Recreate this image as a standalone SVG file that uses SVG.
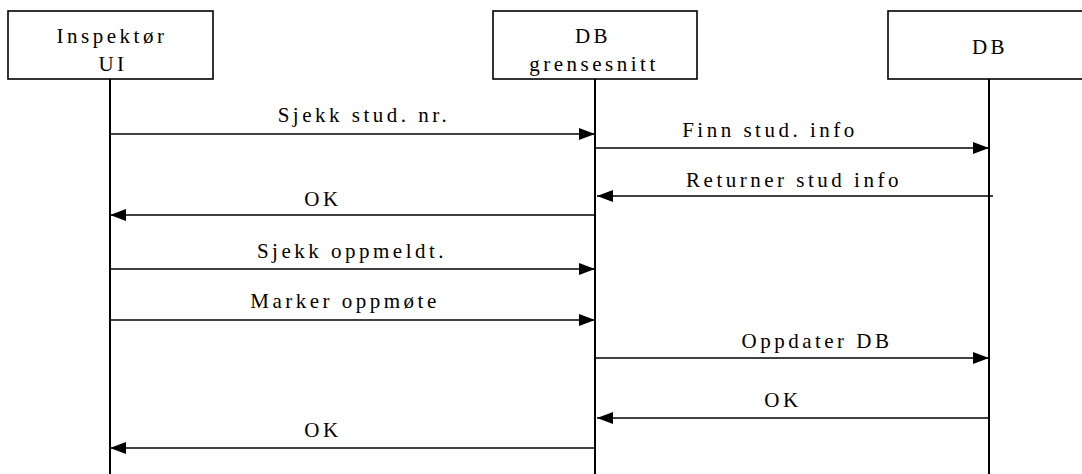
<svg xmlns="http://www.w3.org/2000/svg" width="1082" height="474" viewBox="0 0 1082 474">
  <style>
    .box { fill: #ffffff; stroke: #000000; stroke-width: 1.6; }
    .life { stroke: #000000; stroke-width: 2; fill: none; }
    .msg { stroke: #000000; stroke-width: 1.6; fill: none; }
    text { font-family: "Liberation Serif", "Times New Roman", serif; font-size: 21px; letter-spacing: 3.5px; fill: #000000; text-anchor: middle; }
  </style>
  <defs>
    <marker id="head" viewBox="0 0 16 12" refX="16" refY="6" markerWidth="16" markerHeight="12" markerUnits="userSpaceOnUse" orient="auto">
      <path d="M0,0 L16,6 L0,12 Z" fill="#000000"/>
    </marker>
  </defs>

  <!-- lifelines -->
  <g id="lifelines">
    <line class="life" x1="110" y1="79" x2="110" y2="474"/>
    <line class="life" x1="595" y1="79" x2="595" y2="474"/>
    <line class="life" x1="989" y1="79" x2="989" y2="474"/>
  </g>

  <g id="inspektor-ui">
    <rect class="box" x="8" y="11" width="205" height="68"/>
    <text x="112" y="43">Inspektør</text>
    <text x="113" y="71">UI</text>
  </g>

  <g id="db-grensesnitt">
    <rect class="box" x="493" y="11" width="204" height="68"/>
    <text x="593" y="43">DB</text>
    <text x="594" y="71">grensesnitt</text>
  </g>

  <g id="db">
    <rect class="box" x="888" y="11" width="200" height="68"/>
    <text x="990" y="54">DB</text>
  </g>

  <!-- messages -->
  <g id="connectors">
    <line class="msg" x1="110" y1="134" x2="595" y2="134" marker-end="url(#head)"/>
    <text x="364" y="122">Sjekk stud. nr.</text>

    <line class="msg" x1="595" y1="148" x2="989" y2="148" marker-end="url(#head)"/>
    <text x="770" y="137">Finn stud. info</text>

    <line class="msg" x1="993" y1="196" x2="597" y2="196" marker-end="url(#head)"/>
    <text x="794" y="187">Returner stud info</text>

    <line class="msg" x1="595" y1="215" x2="110" y2="215" marker-end="url(#head)"/>
    <text x="323" y="206">OK</text>

    <line class="msg" x1="110" y1="269" x2="595" y2="269" marker-end="url(#head)"/>
    <text x="352" y="258">Sjekk oppmeldt.</text>

    <line class="msg" x1="110" y1="320" x2="595" y2="320" marker-end="url(#head)"/>
    <text x="345" y="308">Marker oppmøte</text>

    <line class="msg" x1="595" y1="358" x2="989" y2="358" marker-end="url(#head)"/>
    <text x="817" y="348">Oppdater DB</text>

    <line class="msg" x1="989" y1="418" x2="597" y2="418" marker-end="url(#head)"/>
    <text x="783" y="407">OK</text>

    <line class="msg" x1="595" y1="448" x2="110" y2="448" marker-end="url(#head)"/>
    <text x="323" y="437">OK</text>
  </g>
</svg>
